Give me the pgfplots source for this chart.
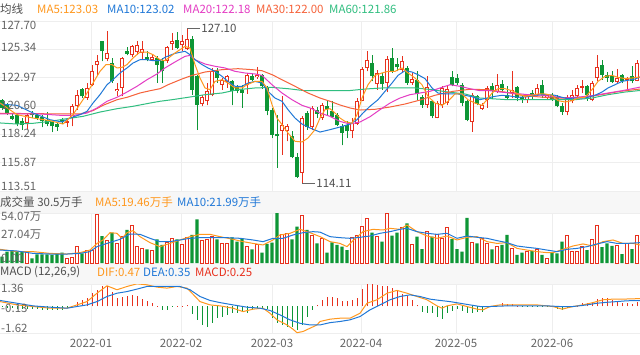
\documentclass[border=0pt]{standalone}
\usepackage{fontspec}
\setmainfont{Noto Sans CJK SC}
\usepackage{pgfplots}
\usepackage{pgfplotstable}
\pgfplotsset{compat=1.18}
\definecolor{cred}{RGB}{232,49,30}
\definecolor{cgreen}{RGB}{14,150,54}
\definecolor{ma5}{RGB}{255,152,30}
\definecolor{ma10}{RGB}{32,120,215}
\definecolor{ma20}{RGB}{228,60,195}
\definecolor{ma30}{RGB}{246,98,58}
\definecolor{ma60}{RGB}{48,190,128}
\definecolor{txt}{RGB}{102,102,102}
\definecolor{txtd}{RGB}{80,80,80}
\definecolor{gridc}{RGB}{238,238,238}
\definecolor{band}{RGB}{247,247,247}
\newcommand\lf{\fontsize{11.5}{13}\selectfont}

% up (red, hollow) candles: x = chart position, open high low close, volume (10k lots)
\pgfplotstableread{
x o h l c v
27 119.19 120.02 118.72 119.88 13.0
67 119.16 119.60 118.88 119.32 5.0
72 119.60 120.77 118.91 120.58 6.1
77 120.58 121.97 120.30 121.55 18.4
87 121.27 122.52 121.13 122.11 13.3
92 122.39 124.06 122.25 123.50 13.3
97 124.00 124.89 123.22 124.39 53.0
107 124.56 126.84 124.33 125.03 24.2
117 121.83 122.53 121.41 122.02 21.2
122 122.11 124.67 121.41 124.61 28.5
132 124.83 125.67 124.67 125.58 41.1
137 125.11 126.00 124.89 125.73 18.4
142 125.03 126.06 124.47 125.39 15.8
152 124.47 124.83 124.39 124.67 14.0
167 124.33 125.59 124.20 125.50 22.0
172 125.78 126.70 125.31 126.00 26.7
182 125.73 126.56 125.17 126.00 20.6
187 125.39 127.10 125.31 126.22 27.4
202 120.77 121.55 120.58 121.33 24.9
207 121.00 122.53 120.66 121.89 25.6
212 121.55 123.78 121.41 123.50 28.5
222 122.39 122.94 121.97 122.80 21.2
227 122.61 123.22 122.11 123.08 21.2
247 122.39 123.36 121.61 123.17 17.7
257 123.00 123.83 122.89 123.22 20.6
282 118.55 121.41 116.54 119.05 31.4
287 118.49 119.10 117.66 118.91 32.1
302 115.02 119.74 114.11 119.60 51.9
312 118.83 120.58 118.63 120.44 30.3
322 119.60 120.86 119.46 120.66 26.7
352 118.49 119.60 117.93 119.19 27.7
357 119.10 121.27 119.05 121.05 30.3
362 121.05 123.83 121.00 123.72 40.0
367 123.78 125.17 123.50 124.47 48.3
377 122.44 123.64 121.97 123.36 28.5
387 122.53 124.75 121.77 124.56 53.7
402 123.64 124.75 123.44 124.33 38.6
412 122.53 123.36 122.38 122.89 20.6
427 120.66 123.08 120.44 122.16 33.9
437 119.60 121.00 119.60 120.86 31.0
442 120.72 122.25 120.44 122.11 26.7
447 120.86 122.25 120.66 122.05 38.6
472 119.27 121.69 118.44 121.55 22.0
482 120.38 120.86 120.30 120.66 26.7
487 121.14 122.25 120.44 122.11 21.2
497 121.77 123.28 121.69 122.33 18.4
512 121.69 123.50 121.27 121.97 15.8
527 121.14 121.61 120.86 121.41 12.3
537 121.55 122.44 121.41 122.11 14.8
547 121.27 121.61 121.13 121.50 5.0
567 120.11 121.55 119.83 121.33 30.3
572 121.00 121.97 120.85 121.50 13.0
577 121.41 122.39 121.13 122.11 13.0
582 122.11 122.80 121.69 122.25 18.4
592 121.14 122.67 121.00 122.53 25.6
597 122.94 124.84 122.67 123.83 41.1
617 122.61 123.72 122.44 122.94 19.5
627 122.80 123.00 121.94 122.94 21.2
637 122.72 124.47 122.66 124.19 30.3
}\up

% down (green, filled) candles
\pgfplotstableread{
x o h l c v
2 121.14 121.19 120.30 120.44 6.9
7 120.66 120.86 119.88 120.03 12.3
12 119.74 120.02 119.46 119.55 14.0
17 119.83 120.02 118.91 119.10 12.3
22 119.32 119.60 118.63 119.05 12.3
32 120.02 120.22 119.60 119.83 5.0
37 119.88 120.02 119.46 119.60 9.4
42 119.66 119.88 118.82 119.33 9.4
47 119.46 120.10 118.91 119.10 9.4
52 119.27 119.38 118.43 118.91 8.7
57 119.10 119.27 118.55 118.88 10.4
62 119.46 119.60 119.10 119.24 11.2
82 122.02 122.11 121.27 121.41 10.4
102 126.00 126.06 124.33 125.17 29.2
112 124.19 124.61 122.53 122.67 32.8
127 125.17 125.50 124.83 124.95 35.7
147 124.67 125.17 124.33 124.44 14.8
157 124.61 124.75 122.53 124.06 25.6
162 124.33 124.61 122.53 123.50 19.5
177 126.14 126.78 125.39 125.45 25.6
192 126.22 126.42 121.55 121.97 30.3
197 123.08 123.22 118.63 120.72 47.2
217 123.50 123.78 122.53 122.94 25.6
232 122.67 122.80 120.66 121.89 27.7
237 122.25 122.38 121.69 121.89 23.1
242 121.97 122.38 120.44 121.69 26.7
252 123.08 123.36 122.66 122.80 14.8
262 123.17 123.28 122.05 122.25 11.2
267 122.11 122.25 119.83 120.22 20.6
272 120.30 120.44 117.93 118.22 22.0
277 118.27 119.88 115.43 118.08 54.0
292 118.08 118.49 116.26 116.32 25.6
297 116.32 116.68 114.60 114.65 39.3
307 120.02 120.16 118.63 118.83 35.7
317 120.30 120.52 119.60 119.94 21.2
327 120.58 121.14 119.88 120.38 11.2
332 120.16 120.99 119.60 119.66 22.3
337 119.88 120.02 118.91 118.99 19.5
342 118.91 119.10 117.32 118.35 17.7
347 118.99 119.32 117.93 118.49 14.0
372 124.19 124.89 122.67 123.08 32.8
382 123.08 123.36 121.97 122.44 23.1
392 124.61 125.45 123.36 123.50 29.6
397 124.11 124.61 123.50 123.83 32.8
407 123.78 123.92 122.38 122.53 42.9
417 122.80 123.50 121.14 121.61 28.5
422 121.33 121.55 120.44 120.66 15.1
432 121.05 121.13 119.60 119.74 28.5
452 123.00 123.50 122.25 122.39 25.9
457 122.94 123.28 122.38 122.53 15.1
462 122.39 122.52 120.58 120.86 12.3
467 121.00 121.13 119.32 119.46 48.7
477 121.41 121.55 120.66 120.77 21.2
492 122.25 122.52 121.22 121.89 14.8
502 122.44 122.80 121.88 121.97 19.5
507 121.55 122.25 121.13 121.27 30.3
517 122.16 122.25 121.00 121.27 8.7
522 121.33 121.55 120.86 121.14 11.2
532 121.69 121.97 121.13 121.41 13.0
542 122.33 122.80 121.27 121.61 8.7
552 121.50 121.69 121.05 121.14 11.2
557 121.33 121.50 120.49 120.58 10.4
562 120.58 120.85 119.88 120.11 23.1
587 122.25 122.38 121.05 121.50 14.0
602 124.06 124.47 122.80 123.22 17.3
607 123.22 123.42 122.61 122.94 21.2
612 123.08 123.50 122.52 122.61 18.4
622 123.17 123.28 122.52 122.67 9.7
632 123.08 123.92 122.52 122.67 15.1
}\down

% MACD histogram
\pgfplotstableread{
x m
2 -0.05
7 -0.10
12 -0.12
17 -0.14
22 -0.15
27 -0.14
32 -0.16
37 -0.18
42 -0.20
47 -0.22
52 -0.24
57 -0.25
62 -0.20
67 -0.12
72 0.05
77 0.28
82 0.36
87 0.49
92 0.80
97 1.01
102 1.21
107 1.25
112 0.90
117 0.50
122 0.56
127 0.64
132 0.70
137 0.60
142 0.44
147 0.30
152 0.19
157 0.02
162 -0.25
167 -0.20
172 -0.05
177 0.02
182 0.05
187 0.06
192 -0.45
197 -0.82
202 -1.13
207 -1.23
212 -1.03
217 -0.72
222 -0.62
227 -0.52
232 -0.42
237 -0.38
242 -0.32
247 -0.38
252 -0.21
257 -0.17
262 -0.11
267 -0.17
272 -0.72
277 -1.03
282 -1.13
287 -1.23
292 -1.27
297 -1.43
302 -1.13
307 -0.62
312 -0.21
317 0.09
322 0.36
327 0.56
332 0.56
337 0.50
342 0.30
347 0.30
352 0.36
357 0.50
362 1.05
367 1.41
372 1.41
377 1.31
382 1.21
387 1.21
392 1.11
397 0.96
402 0.76
407 0.60
412 0.40
417 0.09
422 -0.32
427 -0.38
432 -0.42
437 -0.62
442 -0.78
447 -0.42
452 -0.26
457 -0.17
462 -0.26
467 -0.38
472 -0.38
477 -0.32
482 -0.32
487 -0.11
492 -0.02
497 0.09
502 0.19
507 0.15
512 0.13
517 0.03
522 -0.05
527 -0.04
532 -0.03
537 -0.04
542 -0.02
547 -0.01
552 -0.06
557 -0.17
562 -0.25
567 -0.11
572 -0.04
577 0.04
582 0.19
587 0.19
592 0.23
597 0.44
602 0.50
607 0.50
612 0.36
617 0.30
622 0.23
627 0.23
632 0.15
637 0.25
}\macd

\pgfplotsset{
  panel/.style={scale only axis, width=640pt, xmin=0, xmax=640,
    axis line style={draw=none}, tick style={draw=none},
    xtick={91,181,272,361,456,552}, xticklabel=\empty, yticklabel=\empty,
    grid=major, grid style={draw=gridc, line width=0.8pt},
    clip mode=individual},
  wick/.style={only marks, mark=*, mark size=0pt, mark options={draw=none, fill=none}, forget plot,
    error bars/.cd, y dir=plus, y explicit, error mark=none,
    error bar style={draw=#1, line width=1pt}},
  body/.style 2 args={only marks, mark=*, mark size=0pt, mark options={draw=none, fill=none}, forget plot,
    error bars/.cd, y dir=plus, y explicit, error mark=none,
    error bar style={draw=#1, line width=#2}},
}

\begin{document}
\begin{tikzpicture}
\useasboundingbox (0pt,0pt) rectangle (640pt,354pt);
\fill[white] (0pt,0pt) rectangle (640pt,354pt);
\fill[band] (0pt,141pt) rectangle (640pt,163pt);
\fill[band] (0pt,70pt) rectangle (640pt,91pt);

% ---------------- price panel ----------------
\begin{axis}[panel, scale only axis, at={(0pt,163pt)}, anchor=south west, width=640pt, height=170pt,
  ymin=113.51, ymax=127.70,
  ytick={113.51,115.87,118.24,120.60,122.97,125.34,127.70}]
  % wicks
  \addplot[wick=cgreen] table[x=x, y=l, y error expr=\thisrow{h}-\thisrow{l}] {\down};
  \addplot[wick=cred] table[x=x, y=l, y error expr=\thisrow{h}-\thisrow{l}] {\up};
  % bodies
  \addplot[body={cgreen}{3.4pt}] table[x=x, y=c, y error expr=\thisrow{o}-\thisrow{c}] {\down};
  \addplot[body={cred}{3.4pt}] table[x=x, y=o, y error expr=\thisrow{c}-\thisrow{o}] {\up};
  \addplot[body={white}{1.6pt}] table[x=x, y expr=\thisrow{o}+0.08, y error expr={max(\thisrow{c}-\thisrow{o}-0.16,0)}] {\up};
  % moving averages
  \addplot[ma60, line width=1pt, line join=round] coordinates {(0,119.19) (17,119.10) (33,119.16) (50,119.32) (67,119.55) (83,119.74) (100,120.10) (117,120.38) (133,120.58) (150,120.85) (160,121.00) (172,121.13) (188,121.33) (205,121.55) (222,121.69) (238,121.97) (255,122.11) (272,122.16) (288,122.05) (305,121.88) (320,121.88) (348,121.88) (365,122.02) (382,122.11) (402,122.11) (415,122.11) (432,121.97) (448,121.77) (465,121.61) (480,121.27) (508,121.13) (542,121.13) (575,121.13) (592,121.27) (608,121.55) (625,121.77) (640,121.90)};
  \addplot[ma30, line width=1pt, line join=round] coordinates {(0,120.00) (40,119.96) (80,119.94) (93,120.22) (103,120.66) (117,121.13) (127,121.33) (140,121.69) (150,121.88) (160,122.05) (168,122.38) (182,122.86) (192,123.16) (205,123.44) (222,123.64) (238,123.72) (252,123.64) (262,123.55) (272,123.22) (282,122.80) (295,122.25) (308,121.69) (320,121.27) (330,121.00) (340,120.69) (350,120.44) (360,120.27) (375,120.33) (390,120.52) (405,120.77) (420,121.10) (435,121.50) (453,121.83) (470,122.00) (487,121.97) (505,121.77) (520,121.52) (537,121.38) (553,121.27) (570,121.27) (587,121.36) (605,121.61) (620,121.83) (640,122.02)};
  \addplot[ma20, line width=1pt, line join=round] coordinates {(0,119.94) (40,119.94) (60,119.83) (75,119.83) (87,120.02) (97,120.44) (107,121.00) (117,121.33) (127,121.77) (137,122.25) (147,122.80) (157,123.28) (165,123.78) (175,124.28) (185,124.75) (190,124.83) (195,124.47) (205,124.11) (215,123.92) (225,123.78) (235,123.50) (245,123.36) (255,123.28) (262,123.16) (272,122.38) (282,121.69) (292,121.13) (302,120.66) (312,120.38) (320,120.02) (330,119.74) (340,119.32) (350,119.10) (360,119.27) (370,119.71) (380,120.30) (390,120.85) (400,121.27) (410,121.55) (420,121.69) (430,121.83) (440,122.11) (450,122.38) (460,122.25) (470,122.05) (480,121.88) (490,121.88) (500,121.77) (515,121.66) (528,121.55) (542,121.50) (555,121.38) (565,121.27) (582,121.38) (595,121.50) (608,121.69) (622,121.88) (640,122.18)};
  \addplot[ma10, line width=1pt, line join=round] coordinates {(0,120.77) (17,120.66) (33,120.02) (50,119.46) (62,119.27) (70,119.60) (80,119.88) (87,120.16) (93,120.85) (100,121.55) (107,122.38) (113,122.80) (120,123.36) (127,123.78) (133,124.19) (140,124.47) (147,124.47) (153,124.39) (160,124.39) (165,124.67) (175,125.00) (185,125.17) (190,124.89) (195,124.47) (202,124.06) (208,123.78) (215,123.50) (222,123.08) (228,122.66) (235,122.25) (242,122.25) (248,122.52) (255,122.66) (262,122.52) (268,121.83) (275,121.27) (282,121.00) (288,120.30) (295,119.60) (302,119.10) (310,118.77) (320,118.43) (330,118.63) (340,118.85) (350,119.10) (357,119.46) (363,120.02) (370,120.58) (378,121.13) (385,121.83) (392,122.52) (398,123.16) (405,123.55) (412,123.44) (418,123.22) (425,122.89) (432,122.11) (438,121.69) (445,121.61) (452,121.61) (458,121.61) (465,121.50) (472,121.38) (480,121.13) (487,121.27) (495,121.41) (502,121.50) (510,121.44) (518,121.33) (528,121.38) (535,121.50) (542,121.55) (548,121.55) (555,121.50) (562,121.33) (568,121.22) (575,121.27) (582,121.27) (588,121.33) (595,121.50) (602,121.77) (608,122.11) (615,122.38) (622,122.66) (628,122.75) (635,122.86) (640,123.02)};
  \addplot[ma5, line width=1pt, line join=round] coordinates {(0,120.86) (17,119.88) (33,119.60) (50,119.38) (63,119.10) (73,119.88) (83,121.13) (92,122.38) (100,123.50) (106,124.06) (112,124.06) (117,123.78) (122,123.83) (127,124.06) (133,124.61) (140,125.11) (147,125.11) (153,124.89) (160,124.47) (165,124.39) (175,125.03) (185,125.58) (190,125.45) (195,124.06) (200,122.94) (205,122.11) (210,121.97) (215,122.66) (222,122.80) (228,122.52) (235,122.11) (242,122.11) (247,122.38) (255,122.66) (262,122.66) (267,122.11) (272,120.72) (277,119.60) (282,119.05) (288,118.35) (295,117.66) (302,117.60) (308,117.93) (315,118.63) (320,119.60) (325,120.30) (330,120.38) (335,120.02) (340,119.60) (345,119.32) (352,119.16) (357,119.88) (362,121.27) (368,122.38) (375,123.16) (382,123.36) (388,123.50) (395,123.50) (402,123.78) (408,123.36) (415,122.94) (422,122.38) (428,121.41) (435,120.85) (442,120.66) (448,121.00) (455,121.61) (462,121.61) (468,121.13) (475,120.85) (482,120.66) (487,121.13) (492,121.69) (498,122.05) (505,122.05) (512,121.88) (518,121.61) (525,121.41) (532,121.50) (538,121.61) (545,121.61) (552,121.50) (558,121.05) (565,120.94) (572,121.05) (578,121.27) (585,121.33) (592,121.97) (598,122.66) (605,123.08) (612,123.16) (618,123.00) (625,122.89) (632,122.94) (640,123.03)};
  % high / low annotations
  \draw[txt, line width=0.8pt] (axis cs:187,127.10) -- (axis cs:200,127.10)
    node[anchor=west, inner sep=1pt, text=txtd, font=\lf] {127.10};
  \draw[txt, line width=0.8pt] (axis cs:302,114.11) -- (axis cs:315,114.11)
    node[anchor=west, inner sep=1pt, text=txtd, font=\lf] {114.11};
\end{axis}

% ---------------- volume panel ----------------
\begin{axis}[panel, scale only axis, at={(0pt,91pt)}, anchor=south west, width=640pt, height=50pt,
  ymin=0, ymax=54.07, ytick={54.07}]
  \addplot[ybar, bar width=3.3pt, bar shift=0pt, fill=cgreen, draw=none, forget plot] table[x=x, y=v] {\down};
  \addplot[ybar, bar width=2.5pt, bar shift=0pt, fill=white, draw=cred, line width=0.9pt, forget plot] table[x=x, y=v] {\up};
  \addplot[ma5, line width=1pt, line join=round] coordinates {(0,14.8) (17,12.3) (33,12.3) (50,10.4) (67,9.7) (80,11.2) (90,14.0) (97,21.2) (103,24.9) (110,32.8) (117,32.1) (122,26.7) (127,32.8) (133,35.0) (140,28.5) (150,22.0) (160,17.7) (170,21.2) (180,24.9) (190,28.5) (200,31.0) (210,31.0) (220,28.5) (233,25.6) (243,23.1) (253,21.2) (263,19.5) (273,24.9) (280,30.3) (290,32.1) (300,36.4) (310,32.8) (320,28.5) (330,23.1) (340,21.2) (347,17.7) (353,24.2) (363,33.9) (373,36.4) (383,35.7) (390,37.5) (400,36.4) (407,41.1) (417,33.9) (427,29.2) (437,26.7) (447,29.2) (457,24.9) (467,27.8) (477,28.5) (487,23.1) (497,21.2) (507,22.0) (517,15.8) (527,14.0) (537,12.3) (547,11.2) (553,11.2) (563,14.8) (573,18.4) (583,20.6) (593,18.4) (603,23.1) (613,24.9) (623,21.2) (633,21.2) (640,19.5)};
  \addplot[ma10, line width=1pt, line join=round] coordinates {(0,14.0) (17,13.0) (33,10.4) (50,9.7) (67,9.7) (80,10.4) (90,12.3) (97,17.7) (107,21.2) (120,25.6) (130,31.4) (140,31.0) (150,26.7) (160,23.1) (170,23.1) (180,24.9) (190,26.7) (200,27.4) (213,27.4) (227,27.4) (240,26.7) (253,24.9) (263,23.1) (273,26.7) (283,26.7) (293,30.3) (303,32.8) (313,33.9) (320,33.4) (330,28.5) (340,27.4) (350,26.7) (360,27.8) (370,29.2) (380,32.1) (390,33.9) (400,36.4) (407,37.5) (417,33.9) (427,32.1) (437,31.0) (447,32.1) (457,26.7) (467,29.2) (477,27.8) (487,26.7) (497,24.2) (507,22.0) (517,18.4) (527,17.0) (537,15.8) (547,14.0) (557,12.3) (567,14.8) (577,15.8) (587,17.7) (597,20.6) (607,23.1) (617,21.2) (627,21.2) (640,22.0)};
\end{axis}

% ---------------- MACD panel ----------------
\begin{axis}[panel, scale only axis, at={(0pt,21pt)}, anchor=south west, width=640pt, height=49pt,
  ymin=-1.62, ymax=1.36, ytick={-1.62,1.36}]
  \addplot[ycomb, mark=none, draw=cred, line width=0.9pt, restrict y to domain=0:5, forget plot] table[x=x, y=m] {\macd};
  \addplot[ycomb, mark=none, draw=cgreen, line width=0.9pt, restrict y to domain=-5:0, forget plot] table[x=x, y=m] {\macd};
  \addplot[ma5, line width=1pt, line join=round] coordinates {(0,0.29) (17,0.09) (33,-0.01) (50,-0.11) (67,-0.11) (77,0.09) (87,0.29) (97,0.80) (107,1.25) (117,1.01) (127,1.21) (137,1.37) (147,1.31) (157,1.17) (167,1.11) (177,1.21) (187,1.11) (192,0.80) (200,0.29) (210,0.09) (220,0.03) (233,-0.11) (243,-0.32) (253,-0.17) (263,-0.11) (270,-0.42) (277,-0.82) (287,-1.13) (293,-1.39) (297,-1.60) (303,-1.53) (310,-1.33) (317,-1.13) (320,-0.92) (330,-0.78) (340,-0.72) (350,-0.72) (360,-0.42) (367,0.19) (377,0.40) (387,0.80) (397,0.97) (407,0.80) (417,0.60) (427,0.40) (437,0.03) (442,-0.11) (447,0.03) (457,0.15) (467,-0.01) (477,-0.17) (483,-0.21) (490,-0.01) (500,0.09) (520,0.09) (537,0.09) (553,-0.01) (562,-0.17) (573,-0.01) (583,0.09) (593,0.23) (603,0.40) (613,0.44) (623,0.44) (633,0.46) (640,0.47)};
  \addplot[ma10, line width=1pt, line join=round] coordinates {(0,0.36) (17,0.19) (33,0.03) (50,-0.05) (67,-0.11) (77,-0.01) (87,0.09) (97,0.29) (107,0.60) (117,0.80) (127,0.90) (137,1.05) (147,1.21) (157,1.21) (167,1.21) (180,1.21) (190,1.01) (200,0.60) (210,0.36) (220,0.23) (233,0.09) (247,-0.05) (260,-0.11) (270,-0.25) (280,-0.52) (290,-0.82) (300,-1.03) (310,-1.13) (320,-1.13) (330,-0.99) (340,-0.92) (350,-0.82) (360,-0.62) (370,-0.21) (380,0.09) (390,0.40) (400,0.60) (410,0.70) (420,0.60) (430,0.44) (440,0.36) (450,0.29) (460,0.19) (470,0.09) (480,-0.01) (490,-0.01) (507,0.03) (527,0.03) (547,0.03) (560,-0.01) (573,-0.01) (587,0.09) (597,0.19) (607,0.25) (617,0.29) (627,0.34) (640,0.35)};
\end{axis}

% ---------------- texts ----------------
\begin{scope}[every node/.style={anchor=west, inner sep=0pt, font=\lf}]
  \node[text=txtd] at (0pt,345pt) {均线};
  \node[text=ma5] at (37pt,345pt) {MA5:123.03};
  \node[text=ma10] at (107pt,345pt) {MA10:123.02};
  \node[text=ma20] at (183pt,345pt) {MA20:122.18};
  \node[text=ma30] at (256pt,345pt) {MA30:122.00};
  \node[text=ma60] at (329pt,345pt) {MA60:121.86};

  \node[text=txt] at (1pt,329pt) {127.70};
  \node[text=txt] at (1pt,307pt) {125.34};
  \node[text=txt] at (1pt,277pt) {122.97};
  \node[text=txt] at (1pt,249pt) {120.60};
  \node[text=txt] at (1pt,221pt) {118.24};
  \node[text=txt] at (1pt,192pt) {115.87};
  \node[text=txt] at (1pt,168pt) {113.51};

  \node[text=txtd] at (0pt,152pt) {成交量 30.5万手};
  \node[text=ma5] at (95pt,152pt) {MA5:19.46万手};
  \node[text=ma10] at (177pt,152pt) {MA10:21.99万手};

  \node[text=txt] at (1pt,137pt) {54.07万};
  \node[text=txt] at (1pt,119pt) {27.04万};
  \node[text=txt] at (1pt,96pt) {0.00};

  \node[text=txtd] at (0pt,82pt) {MACD (12,26,9)};
  \node[text=ma5] at (97pt,82pt) {DIF:0.47};
  \node[text=ma10] at (143pt,82pt) {DEA:0.35};
  \node[text=cred] at (195pt,82pt) {MACD:0.25};

  \node[text=txt] at (1pt,66pt) {1.36};
  \node[text=txt] at (1pt,46pt) {-0.13};
  \node[text=txt] at (1pt,26pt) {-1.62};
\end{scope}
\begin{scope}[every node/.style={anchor=center, inner sep=0pt, font=\lf, text=txt}]
  \node at (91pt,11pt) {2022-01};
  \node at (181pt,11pt) {2022-02};
  \node at (272pt,11pt) {2022-03};
  \node at (361pt,11pt) {2022-04};
  \node at (456pt,11pt) {2022-05};
  \node at (552pt,11pt) {2022-06};
\end{scope}
\end{tikzpicture}
\end{document}
